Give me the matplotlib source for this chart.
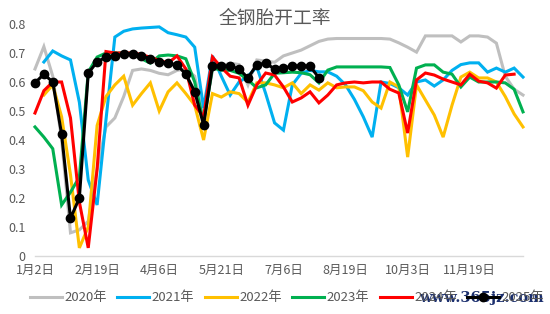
import numpy as np
import matplotlib
matplotlib.use("Agg")
import matplotlib.pyplot as plt

plt.rcParams['font.family'] = ['Noto Sans CJK SC', 'DejaVu Sans']

# weekly categories, labels every 7th week
tick_labels = ['1月2日', '2月19日', '4月6日', '5月21日', '7月6日', '8月19日', '10月3日', '11月19日']
n_weeks = 56

y2020 = [0.645, 0.722, 0.62, 0.40, 0.08, 0.09, 0.12, 0.30, 0.445, 0.476,
         0.55, 0.64, 0.645, 0.64, 0.63, 0.625, 0.64, 0.645, 0.62, 0.47,
         0.64, 0.655, 0.665, 0.66, 0.59, 0.676, 0.672, 0.668, 0.69, 0.70,
         0.71, 0.725, 0.74, 0.748, 0.75, 0.75, 0.75, 0.75, 0.75, 0.75,
         0.748, 0.735, 0.72, 0.703, 0.759, 0.759, 0.759, 0.759, 0.738, 0.759,
         0.759, 0.755, 0.734, 0.62, 0.575, 0.555]
y2021 = [None, 0.669, 0.707, 0.69, 0.676, 0.53, 0.262, 0.176, 0.47, 0.755,
         0.775, 0.783, 0.786, 0.788, 0.79, 0.77, 0.763, 0.755, 0.72, 0.51,
         0.69, 0.62, 0.555, 0.60, 0.62, 0.652, 0.56, 0.459, 0.434, 0.59,
         0.63, 0.64, 0.635, 0.635, 0.62, 0.59, 0.54, 0.48, 0.41, 0.60,
         0.595, 0.58, 0.555, 0.60, 0.607, 0.586, 0.607, 0.64, 0.66, 0.666,
         0.666, 0.634, 0.648, 0.634, 0.648, 0.617]
y2022 = [None, 0.555, 0.59, 0.48, 0.28, 0.028, 0.10, 0.45, 0.55, 0.59,
         0.62, 0.52, 0.56, 0.597, 0.50, 0.566, 0.597, 0.56, 0.52, 0.40,
         0.56, 0.548, 0.566, 0.56, 0.53, 0.597, 0.597, 0.59, 0.58, 0.597,
         0.56, 0.59, 0.572, 0.597, 0.58, 0.583, 0.583, 0.57, 0.531, 0.51,
         0.60, 0.583, 0.341, 0.59, 0.538, 0.486, 0.41, 0.52, 0.617, 0.634,
         0.614, 0.614, 0.60, 0.55, 0.49, 0.445]
y2023 = [0.445, 0.41, 0.37, 0.176, 0.22, 0.272, 0.634, 0.686, 0.70, 0.70,
         0.70, 0.698, 0.68, 0.665, 0.69, 0.693, 0.69, 0.68, 0.60, 0.46,
         0.648, 0.641, 0.64, 0.63, 0.607, 0.58, 0.59, 0.63, 0.632, 0.634,
         0.632, 0.625, 0.597, 0.641, 0.652, 0.652, 0.652, 0.652, 0.652, 0.652,
         0.65, 0.59, 0.497, 0.648, 0.659, 0.659, 0.634, 0.627, 0.583, 0.617,
         0.60, 0.60, 0.60, 0.597, 0.575, 0.497]
y2024 = [0.493, 0.57, 0.60, 0.60, 0.476, 0.186, 0.028, 0.30, 0.705, 0.70,
         0.70, 0.70, 0.695, 0.685, 0.675, 0.665, 0.69, 0.645, 0.52, 0.48,
         0.686, 0.65, 0.62, 0.614, 0.52, 0.59, 0.631, 0.624, 0.583, 0.531,
         0.545, 0.566, 0.528, 0.555, 0.59, 0.597, 0.60, 0.597, 0.60, 0.60,
         0.575, 0.562, 0.424, 0.607, 0.631, 0.624, 0.61, 0.60, 0.59, 0.627,
         0.603, 0.597, 0.579, 0.624, 0.627]
y2025 = [0.597, 0.627, 0.60, 0.42, 0.13, 0.20, 0.63, 0.67, 0.685, 0.69,
         0.695, 0.698, 0.69, 0.68, 0.67, 0.664, 0.659, 0.627, 0.567, 0.452,
         0.655, 0.655, 0.655, 0.645, 0.614, 0.66, 0.665, 0.645, 0.648, 0.655,
         0.656, 0.655, 0.614]

series = [
    ('2020年', y2020, '#BFBFBF'),
    ('2021年', y2021, '#00B0F0'),
    ('2022年', y2022, '#FFC000'),
    ('2023年', y2023, '#00B050'),
    ('2024年', y2024, '#FF0000'),
]

fig = plt.figure(figsize=(5.5, 3.14), dpi=100)
ax = fig.add_axes([35 / 550, 58 / 314, 488 / 550, 232 / 314])

for name, vals, col in series:
    v = np.array([np.nan if a is None else a for a in vals])
    ax.plot(np.arange(len(v)), v, color=col, lw=2.2, label=name,
            solid_joinstyle='miter', clip_on=False)
ax.plot(np.arange(len(y2025)), y2025, color='black', lw=2.2, marker='o',
        ms=6, label='2025年', clip_on=False)

ax.set_xlim(0, n_weeks - 1)
ax.set_ylim(0, 0.8)
ax.set_yticks(np.arange(0, 0.81, 0.1))
ax.set_yticklabels(['0'] + ['%.1f' % t for t in np.arange(0.1, 0.81, 0.1)])
ax.set_xticks(np.arange(0, 7 * len(tick_labels), 7))
ax.set_xticklabels(tick_labels)
ax.tick_params(axis='both', length=0, colors='#595959', labelsize=9)
ax.tick_params(axis='y', pad=7)
ax.tick_params(axis='x', pad=5.5)
for s in ['top', 'right', 'left']:
    ax.spines[s].set_visible(False)
ax.spines['bottom'].set_color('#D9D9D9')
ax.spines['bottom'].set_linewidth(1.0)

fig.text(0.5, 1 - 18 / 314, '全钢胎开工率', ha='center', va='center',
         fontsize=13.5, color='#595959')

fig.legend(loc='center', bbox_to_anchor=(0.522, 1 - 298 / 314), ncol=6,
           frameon=False, fontsize=9.5, handlelength=2.4, handletextpad=0.2,
           columnspacing=0.8, labelcolor='#595959')

fig.text(0.988, 1 - 298 / 314, 'www.365jz.com', ha='right', va='center',
         fontsize=10.5, fontweight='bold', family='DejaVu Serif', color='#1B2F6E')

fig.savefig('out.png', dpi=100)
